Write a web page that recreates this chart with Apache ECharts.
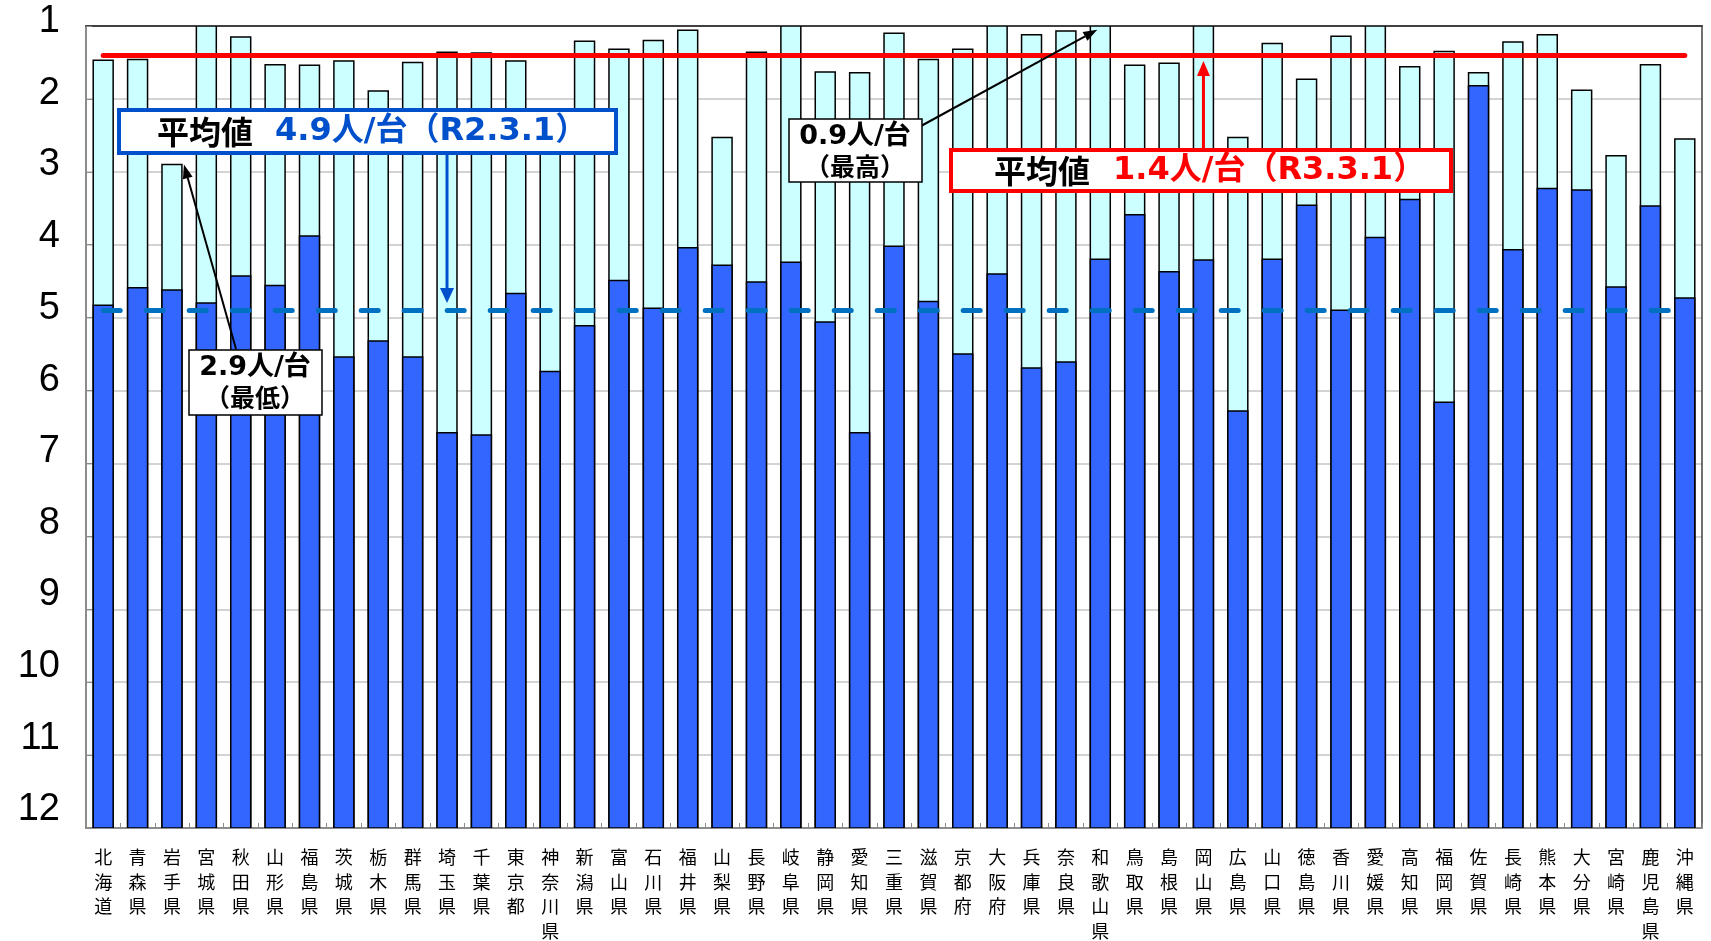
<!DOCTYPE html>
<html>
<head>
<meta charset="utf-8">
<script src="https://cdn.jsdelivr.net/npm/echarts@6.0.0/dist/echarts.min.js"></script>
<style>
html,body{margin:0;padding:0;background:#fff;}
#chart{width:1711px;height:941px;}
</style>
</head>
<body>
<div id="chart"></div>
<script>
// ---- data ----
var categories = ['北海道','青森県','岩手県','宮城県','秋田県','山形県','福島県','茨城県','栃木県','群馬県',
  '埼玉県','千葉県','東京都','神奈川県','新潟県','富山県','石川県','福井県','山梨県','長野県',
  '岐阜県','静岡県','愛知県','三重県','滋賀県','京都府','大阪府','兵庫県','奈良県','和歌山県',
  '鳥取県','島根県','岡山県','広島県','山口県','徳島県','香川県','愛媛県','高知県','福岡県',
  '佐賀県','長崎県','熊本県','大分県','宮崎県','鹿児島県','沖縄県'];
// persons per vehicle, R3.3.1 (light bars)
var valuesR3 = [1.47,1.46,2.9,1.0,1.15,1.53,1.54,1.48,1.89,1.5,
  1.36,1.37,1.48,2.4,1.21,1.32,1.2,1.06,2.53,1.36,
  1.0,1.63,1.64,1.1,1.46,1.32,1.0,1.12,1.07,0.9,
  1.54,1.51,1.0,2.53,1.24,1.73,1.14,1.0,1.56,1.35,
  1.64,1.22,1.12,1.88,2.78,1.53,2.55];
// persons per vehicle, R2.3.1 (dark bars)
var valuesR2 = [4.83,4.59,4.62,4.80,4.43,4.56,3.88,5.54,5.32,5.54,
  6.58,6.61,4.67,5.74,5.11,4.49,4.87,4.04,4.28,4.51,
  4.24,5.06,6.58,4.02,4.78,5.50,4.40,5.69,5.61,4.20,
  3.59,4.37,4.21,6.28,4.20,3.46,4.90,3.90,3.38,6.16,
  1.82,4.07,3.23,3.25,4.58,3.47,4.73];
var avgR3 = 1.4;
var avgR2 = 4.9;
var yTicks = [1,2,3,4,5,6,7,8,9,10,11,12];
var yMin = 1, yMax = 12;

var chart = echarts.init(document.getElementById('chart'), null, {renderer:'canvas'});

function barRenderer(color){
  return function(params, api){
    var idx = api.value(0), v = api.value(1);
    var top = api.coord([idx, v]);
    var bot = api.coord([idx, yMax]);
    var bw = api.size([1, 0])[0] * 0.58;
    var cs = params.coordSys;
    var shape = echarts.graphic.clipRectByRect(
      {x: top[0] - bw / 2, y: top[1], width: bw, height: bot[1] - top[1]},
      {x: cs.x, y: cs.y, width: cs.width, height: cs.height});
    if (!shape) return;
    return {type:'rect', shape: shape, style:{fill: color, stroke:'#000', lineWidth:1.5}};
  };
}

var rich = {};
yTicks.forEach(function(v){
  var off = 4.5 + (v - 1) * 1.22;
  rich['p' + v] = {fontSize:38, fontFamily:'"Liberation Sans", Arial, sans-serif', color:'#000', padding:[0,0,Math.round(off*2),0]};
});

var option = {
  animation: false,
  backgroundColor: '#fff',
  grid: {left:86, right:9, top:26, bottom:113, containLabel:false, outerBoundsMode:'none'},
  xAxis: [{
    type:'category', data: categories, boundaryGap:true,
    axisLine:{lineStyle:{color:'#8c8c8c', width:2}},
    axisTick:{show:true, inside:true, length:5, lineStyle:{color:'#8c8c8c', width:1}},
    axisLabel:{interval:0, margin:17, fontSize:18, lineHeight:24.5, color:'#000',
      fontFamily:'"Noto Sans CJK JP", sans-serif',
      formatter:function(s){ return s.split('').join('\n'); }},
    splitLine:{show:false}
  },{
    type:'category', data: categories, position:'top',
    axisLine:{lineStyle:{color:'#404040', width:2}},
    axisTick:{show:false}, axisLabel:{show:false}, splitLine:{show:false}
  }],
  yAxis: [{
    type:'value', inverse:true, min:yMin, max:yMax, interval:1,
    axisLine:{show:true, lineStyle:{color:'#8c8c8c', width:2}},
    axisTick:{show:true, inside:true, length:6, lineStyle:{color:'#8c8c8c', width:1}},
    axisLabel:{margin:26, formatter:function(v){ return '{p' + v + '|' + v + '}'; }, rich: rich},
    splitLine:{show:true, lineStyle:{color:'#c4c4c4', width:1.5}}
  },{
    type:'value', inverse:true, min:yMin, max:yMax, interval:1, position:'right',
    axisLine:{show:true, lineStyle:{color:'#404040', width:1.5}},
    axisTick:{show:false}, axisLabel:{show:false}, splitLine:{show:false}
  }],
  series: [
    {type:'custom', name:'R3.3.1', coordinateSystem:'cartesian2d', clip:true, z:2,
     encode:{x:0, y:1}, renderItem: barRenderer('#ccffff'),
     data: valuesR3.map(function(v,i){ return [i, v]; })},
    {type:'custom', name:'R2.3.1', coordinateSystem:'cartesian2d', clip:true, z:3,
     encode:{x:0, y:1}, renderItem: barRenderer('#3366ff'),
     data: valuesR2.map(function(v,i){ return [i, v]; })},
    {type:'line', name:'avg', data:[], z:10, silent:true,
     markLine:{silent:true, symbol:['none','none'], label:{show:false}, animation:false,
       data:[
         [{coord:[0, avgR2], lineStyle:{color:'#0070c0', width:5, type:[17,26], cap:'round'}},
          {coord:[categories.length-1, avgR2]}],
         [{coord:[0, avgR3], lineStyle:{color:'#ff0000', width:5, type:'solid', cap:'round'}},
          {coord:[categories.length-1, avgR3]}]
       ]}}
  ]
};
chart.setOption(option);

// ---- annotations ----
function px(ci, v){ return chart.convertToPixel({gridIndex:0}, [ci, v]); }
function arrow(p0, p1, color, lw, hl, hw){
  var dx = p1[0]-p0[0], dy = p1[1]-p0[1], L = Math.sqrt(dx*dx+dy*dy);
  var ux = dx/L, uy = dy/L, bx = p1[0]-ux*hl, by = p1[1]-uy*hl, nx = -uy, ny = ux;
  return [
    {type:'line', z:100, shape:{x1:p0[0], y1:p0[1], x2:bx, y2:by}, style:{stroke:color, lineWidth:lw}},
    {type:'polygon', z:100, shape:{points:[[p1[0],p1[1]],[bx+nx*hw/2,by+ny*hw/2],[bx-nx*hw/2,by-ny*hw/2]]}, style:{fill:color}}
  ];
}
function box(x,y,w,h,stroke,lw){
  return {type:'rect', z:100, shape:{x:x,y:y,width:w,height:h}, style:{fill:'#fff', stroke:stroke, lineWidth:lw}};
}
function txt(s, x, y, color, font, align){
  return {type:'text', z:101, x:x, y:y, style:{text:s, fill:color, font:font, align:align||'left', verticalAlign:'middle'}};
}
var kanjiFont = 'bold 32px "Noto Sans CJK JP", sans-serif';
var bigFont = 'bold 32px "DejaVu Sans", "Noto Sans CJK JP", sans-serif';
var smallFont = 'bold 27px "DejaVu Sans", "Noto Sans CJK JP", sans-serif';
var smallKanji = 'bold 25px "Noto Sans CJK JP", sans-serif';
var blue = '#0050cc', red = '#ff0000';

var els = [];
// blue average box + arrow
var pB = px(10, 4.8);
els = els.concat(arrow([pB[0], 155], pB, blue, 3, 15, 14));
els.push(box(119, 110, 497, 43, blue, 4));
els.push(txt('平均値', 157, 132, '#000', kanjiFont));
els.push(txt('4.9人/台（R2.3.1）', 275, 132, blue, bigFont));
// red average box + arrow
var pR = px(32, 1.48);
els = els.concat(arrow([pR[0], 150], pR, red, 3, 15, 13));
els.push(box(951, 150, 500, 41, red, 4));
els.push(txt('平均値', 994, 171, '#000', kanjiFont));
els.push(txt('1.4人/台（R3.3.1）', 1113, 171, red, bigFont));
// lowest
var pL = px(2, valuesR3[2]);
els = els.concat(arrow([236, 349], [pL[0] + 12, pL[1]], '#000', 2, 14, 10));
els.push(box(189, 350, 133, 65, '#000', 1.5));
els.push(txt('2.9人/台', 255, 368, '#000', smallFont, 'center'));
els.push(txt('（最低）', 255, 397, '#000', smallKanji, 'center'));
// highest
var pH = px(29, 1.05);
els = els.concat(arrow([921, 126], [pH[0] - 3, pH[1]], '#000', 2, 14, 10));
els.push(box(789, 119, 133, 63, '#000', 1.5));
els.push(txt('0.9人/台', 855, 137, '#000', smallFont, 'center'));
els.push(txt('（最高）', 855, 166, '#000', smallKanji, 'center'));

chart.setOption({graphic: els});
</script>
</body>
</html>
